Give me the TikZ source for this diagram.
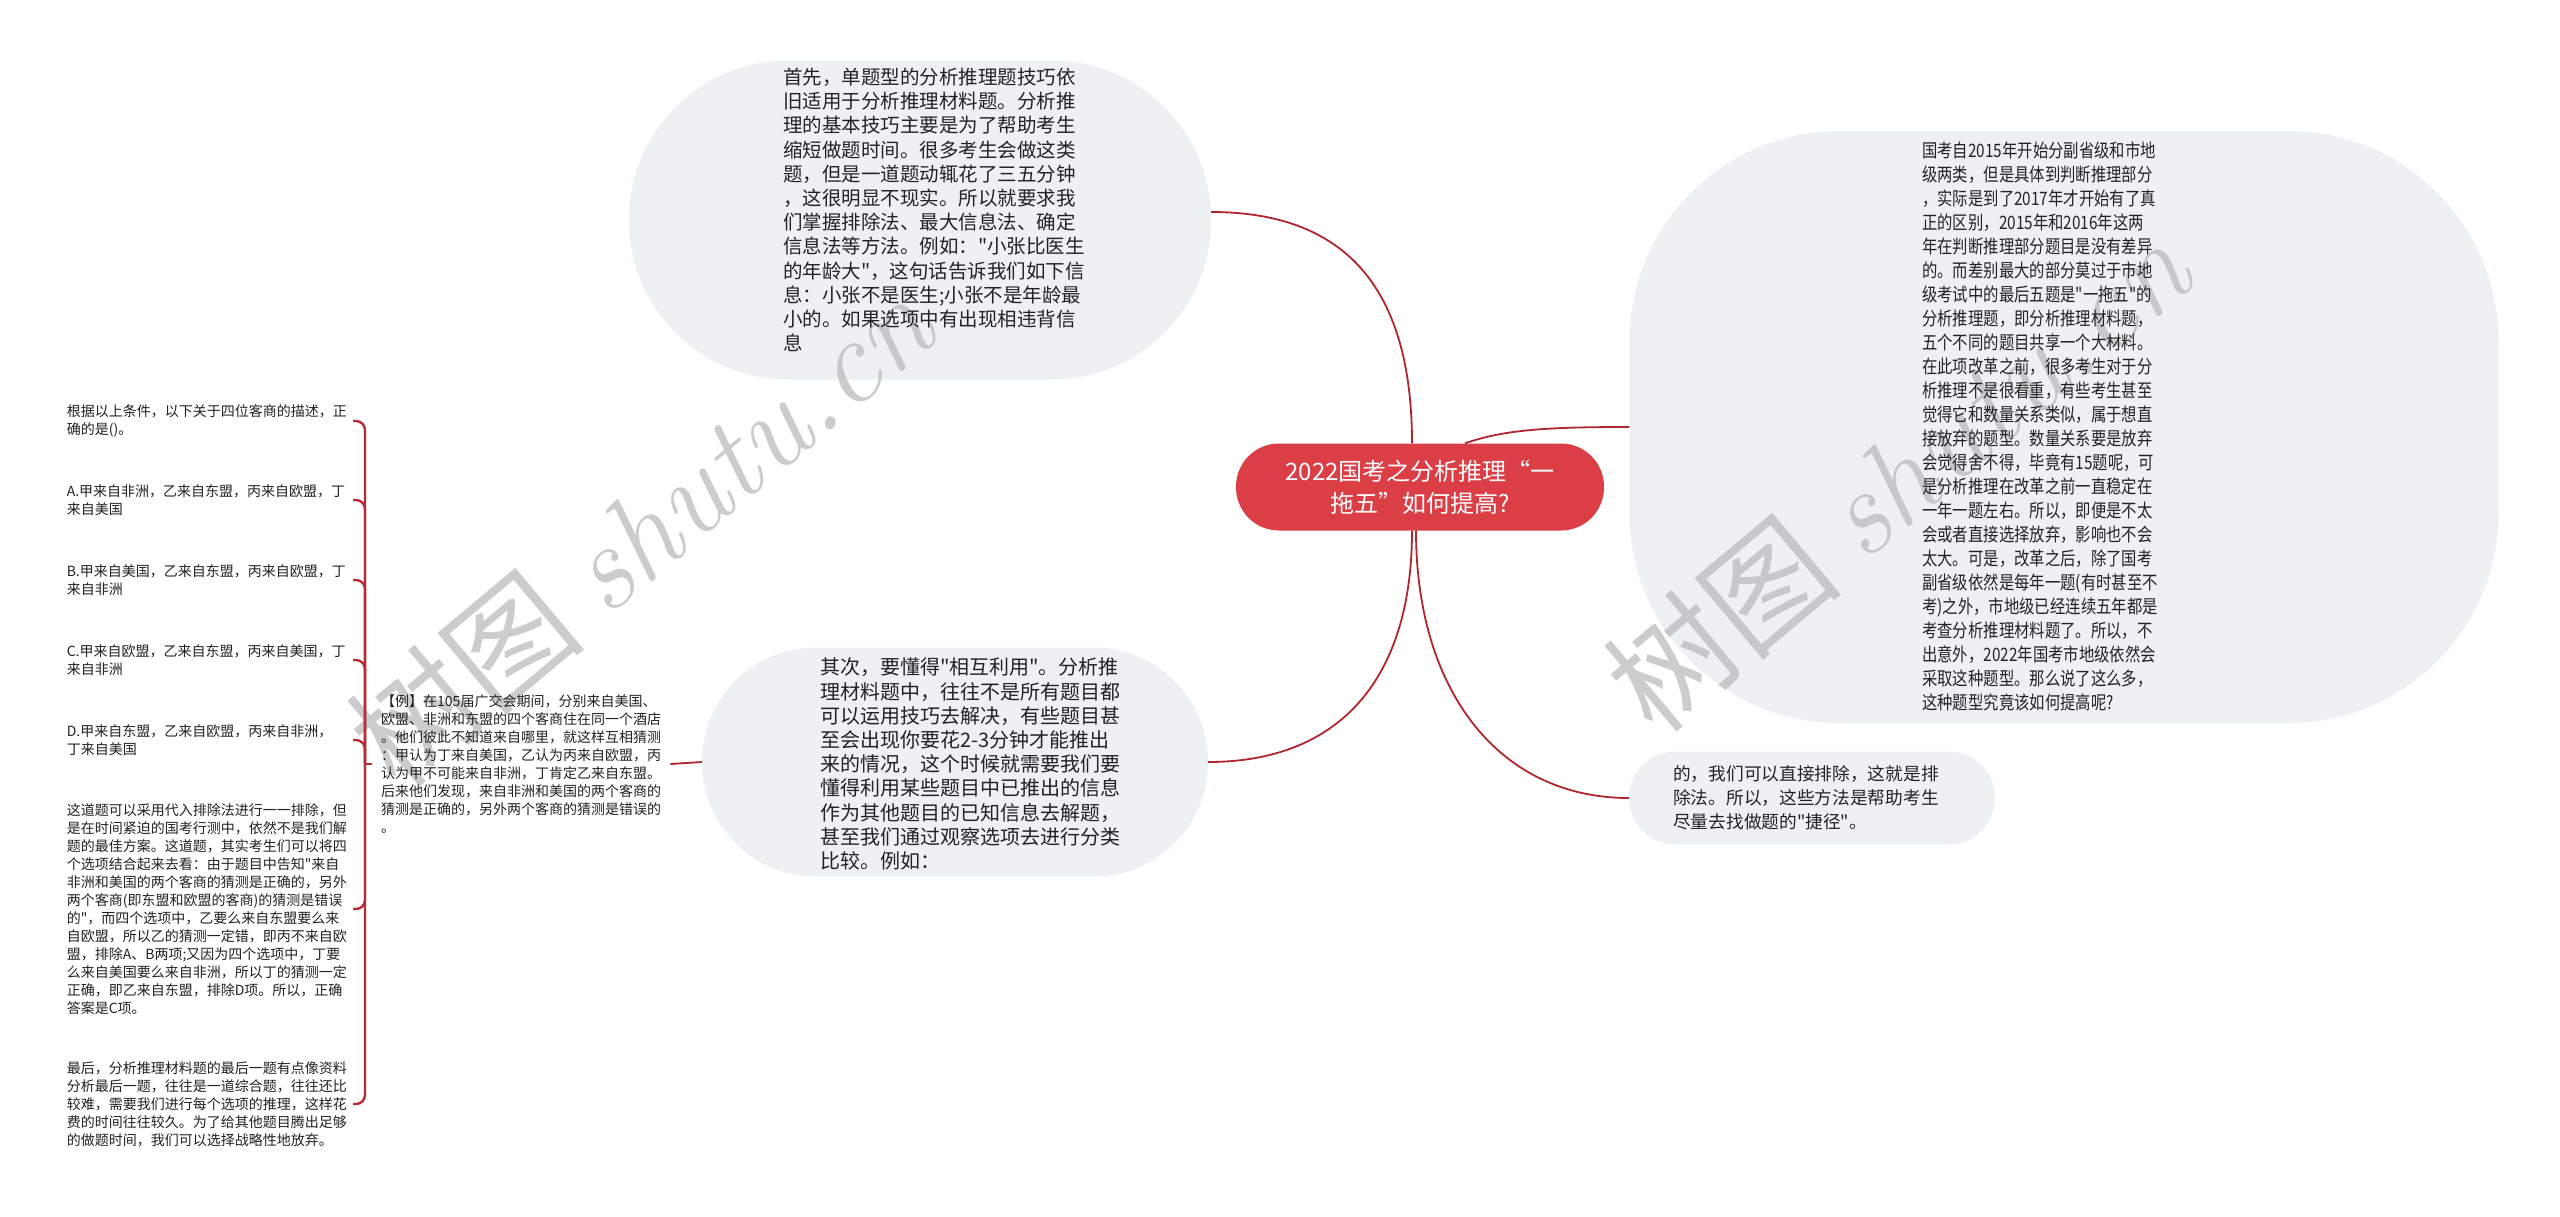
\documentclass[tikz,border=0pt]{standalone}
\usepackage{fontspec}
\newfontfamily\cjk{Noto Sans CJK SC}
\newfontfamily\cjkc[FakeStretch=0.83]{Noto Sans CJK SC}
\newfontfamily\lmi{Latin Modern Roman}
\usetikzlibrary{calc}
\definecolor{bub}{RGB}{238,241,244}
\definecolor{rootred}{RGB}{220,62,70}
\definecolor{linered}{RGB}{176,38,46}
\definecolor{brkred}{RGB}{184,44,54}
\definecolor{txt}{RGB}{34,34,34}
\definecolor{wmgray}{RGB}{185,185,185}
\tikzset{
  bubble/.style={fill=bub, draw=none, inner sep=0pt},
  btext/.style={text=txt, align=left, inner sep=0pt, anchor=center},
  conn/.style={draw=linered, line width=1.8pt},
  brk/.style={draw=brkred, line width=2.4pt, rounded corners=9pt},
  leaf/.style={text=txt, align=left, inner sep=0pt, text width=286pt, anchor=east, font=\cjk\fontsize{14}{18}\selectfont},
  wmark/.style={rotate=40, text=wmgray, opacity=0.72, inner sep=0pt, font=\cjk\fontsize{122}{122}\selectfont}
}
\begin{document}
\begin{tikzpicture}[x=1pt,y=-1pt]
\useasboundingbox[fill=white] (0,0) rectangle (2560,1216);

% bubbles
\node[bubble, minimum width=582pt, minimum height=319pt, rounded corners=159pt] (tb) at (920,220) {};
\node[bubble, minimum width=869pt, minimum height=592pt, rounded corners=210pt] (rb) at (2064,427) {};
\node[bubble, minimum width=366pt, minimum height=93pt, rounded corners=46pt] (br) at (1812,798) {};
\node[bubble, minimum width=506pt, minimum height=229pt, rounded corners=114pt] (mb) at (955,762) {};

% watermarks (behind the texts)
\node[wmark] (wm1) at (640,530) {树图 {\lmi\itshape shutu.cn}};
\node[wmark] (wm2) at (1897,475) {树图 {\lmi\itshape shutu.cn}};

% root
\node[fill=rootred, text=white, align=center, minimum width=368pt, minimum height=87pt, rounded corners=43pt, inner sep=0pt, font=\cjk\fontsize{24}{32}\selectfont] (cn) at (1420,487) {2022国考之分析推理“一\\拖五”如何提高?};

% bubble texts
\node[btext, font=\cjk\fontsize{19.5}{24.2}\selectfont] (tbt) at (934,210) {首先，单题型的分析推理题技巧依\\旧适用于分析推理材料题。分析推\\理的基本技巧主要是为了帮助考生\\缩短做题时间。很多考生会做这类\\题，但是一道题动辄花了三五分钟\\，这很明显不现实。所以就要求我\\们掌握排除法、最大信息法、确定\\信息法等方法。例如："小张比医生\\的年龄大"，这句话告诉我们如下信\\息：小张不是医生;小张不是年龄最\\小的。如果选项中有出现相违背信\\息};

\node[btext, font=\cjkc\fontsize{18.5}{24}\selectfont] (rbt) at (2040,426) {国考自2015年开始分副省级和市地\\级两类，但是具体到判断推理部分\\，实际是到了2017年才开始有了真\\正的区别，2015年和2016年这两\\年在判断推理部分题目是没有差异\\的。而差别最大的部分莫过于市地\\级考试中的最后五题是"一拖五"的\\分析推理题，即分析推理材料题，\\五个不同的题目共享一个大材料。\\在此项改革之前，很多考生对于分\\析推理不是很看重，有些考生甚至\\觉得它和数量关系类似，属于想直\\接放弃的题型。数量关系要是放弃\\会觉得舍不得，毕竟有15题呢，可\\是分析推理在改革之前一直稳定在\\一年一题左右。所以，即便是不太\\会或者直接选择放弃，影响也不会\\太大。可是，改革之后，除了国考\\副省级依然是每年一题(有时甚至不\\考)之外，市地级已经连续五年都是\\考查分析推理材料题了。所以，不\\出意外，2022年国考市地级依然会\\采取这种题型。那么说了这么多，\\这种题型究竟该如何提高呢?};

\node[btext, font=\cjk\fontsize{17.7}{24}\selectfont] (brt) at (1806,798) {的，我们可以直接排除，这就是排\\除法。所以，这些方法是帮助考生\\尽量去找做题的"捷径"。};

\node[btext, font=\cjk\fontsize{20}{24.2}\selectfont] (mbt) at (970,764) {其次，要懂得"相互利用"。分析推\\理材料题中，往往不是所有题目都\\可以运用技巧去解决，有些题目甚\\至会出现你要花2-3分钟才能推出\\来的情况，这个时候就需要我们要\\懂得利用某些题目中已推出的信息\\作为其他题目的已知信息去解题，\\甚至我们通过观察选项去进行分类\\比较。例如：};

% example node
\node[text=txt, align=left, inner xsep=9pt, inner ysep=0pt, anchor=west, font=\cjk\fontsize{14}{18}\selectfont] (ex) at (372,764) {【例】在105届广交会期间，分别来自美国、\\欧盟、非洲和东盟的四个客商住在同一个酒店\\。他们彼此不知道来自哪里，就这样互相猜测\\：甲认为丁来自美国，乙认为丙来自欧盟，丙\\认为甲不可能来自非洲，丁肯定乙来自东盟。\\后来他们发现，来自非洲和美国的两个客商的\\猜测是正确的，另外两个客商的猜测是错误的\\。};

% leaves
\node[leaf] (c1) at (353,421) {根据以上条件，以下关于四位客商的描述，正\\确的是()。};
\node[leaf] (cA) at (353,500) {A.甲来自非洲，乙来自东盟，丙来自欧盟，丁\\来自美国};
\node[leaf] (cB) at (353,580) {B.甲来自美国，乙来自东盟，丙来自欧盟，丁\\来自非洲};
\node[leaf] (cC) at (353,660) {C.甲来自欧盟，乙来自东盟，丙来自美国，丁\\来自非洲};
\node[leaf] (cD) at (353,740) {D.甲来自东盟，乙来自欧盟，丙来自非洲，\\丁来自美国};
\node[leaf] (cz) at (353,909) {这道题可以采用代入排除法进行一一排除，但\\是在时间紧迫的国考行测中，依然不是我们解\\题的最佳方案。这道题，其实考生们可以将四\\个选项结合起来去看：由于题目中告知"来自\\非洲和美国的两个客商的猜测是正确的，另外\\两个客商(即东盟和欧盟的客商)的猜测是错误\\的"，而四个选项中，乙要么来自东盟要么来\\自欧盟，所以乙的猜测一定错，即丙不来自欧\\盟，排除A、B两项;又因为四个选项中，丁要\\么来自美国要么来自非洲，所以丁的猜测一定\\正确，即乙来自东盟，排除D项。所以，正确\\答案是C项。};
\node[leaf] (cl) at (353,1104) {最后，分析推理材料题的最后一题有点像资料\\分析最后一题，往往是一道综合题，往往还比\\较难，需要我们进行每个选项的推理，这样花\\费的时间往往较久。为了给其他题目腾出足够\\的做题时间，我们可以选择战略性地放弃。};

% bracket
\coordinate (J) at ($(ex.west)+(-7,0)$);
\draw[brk] (ex.west) -- (J);
\foreach \c in {c1,cA,cB,cC,cD,cz,cl} \draw[brk] (J) |- (\c.east);

% connectors
\draw[conn] (mb.west) -- (ex.east);
\draw[conn] ($(cn.north)+(-8,0)$) .. controls +(0,-160) and +(130,0) .. ($(tb.east)+(0,-8)$);
\draw[conn] ($(cn.north)+(45,0)$) .. controls +(40,-14) and +(-80,0) .. (rb.west);
\draw[conn] ($(cn.south)+(-8,0)$) .. controls +(0,150) and +(130,0) .. (mb.east);
\draw[conn] ($(cn.south)+(-4,0)$) .. controls +(0,160) and +(-130,0) .. (br.west);
\end{tikzpicture}
\end{document}
